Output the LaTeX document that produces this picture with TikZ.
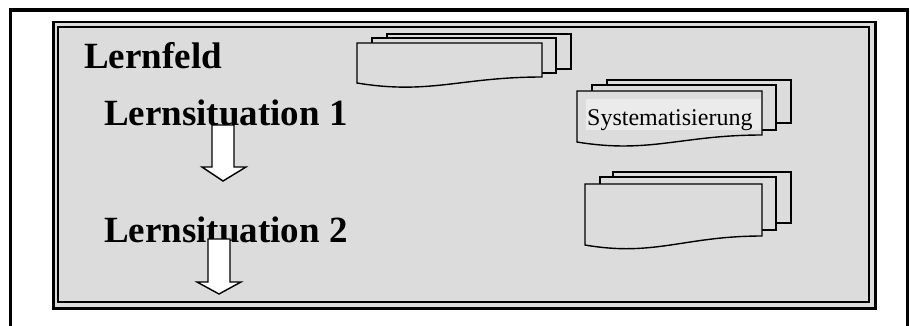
\documentclass[tikz,border=0pt]{standalone}
\usepackage{fontspec}
\setmainfont{Liberation Serif}
\definecolor{panelgrey}{HTML}{DCDCDC}
\definecolor{labelgrey}{HTML}{EBEBEB}
\tikzset{
  sheet/.style={draw=black, line width=1.4pt, fill=panelgrey, line join=miter},
  bigarrow/.style={draw=black, line width=1.4pt, fill=white, line join=miter},
  titletext/.style={font=\bfseries\fontsize{37}{40}\selectfont, anchor=base west, inner sep=0pt},
  sheettext/.style={font=\fontsize{24}{26}\selectfont, anchor=base west, inner sep=0pt},
}
\begin{document}
\begin{tikzpicture}[x=1pt,y=-1pt]
\useasboundingbox (0,0) rectangle (910,325);
\clip (0,0) rectangle (910,325);
% outer frame
\draw[line width=3.5pt] (10.3,10) rectangle (907.3,345);
% inner double frame
\draw[line width=2.5pt, fill=panelgrey] (53.6,22.2) rectangle (875.3,308.7);
\draw[line width=1.6pt] (58.2,26.9) rectangle (869.2,302.2);

% document stack 1
\draw[sheet] (387,34) rectangle (571,69);
\draw[sheet] (372,38) rectangle (556,73);
\draw[sheet] (357,43) -- (542,43) -- (542,77)
  .. controls (460.6,77) and (430,95) .. (357,83) -- cycle;

% document stack 2
\draw[sheet] (607,80) rectangle (791,123);
\draw[sheet] (592,85) rectangle (776,130);
\draw[sheet] (577,91) -- (762,91) -- (762,135)
  .. controls (681,135) and (650,154) .. (577,142) -- cycle;
\fill[labelgrey] (586,99) rectangle (761,130);
\node[sheettext] (sys) at (587,125) {Systematisierung};

% document stack 3
\draw[sheet] (613,172) rectangle (791,223);
\draw[sheet] (600,177) rectangle (776,230);
\draw[sheet] (585,184) -- (762,184) -- (762,236)
  .. controls (684,236) and (655,257) .. (585,245) -- cycle;

% texts
\node[titletext] (lernfeld) at (84,68) {Lernfeld};
\node[titletext] (ls1) at (104,125) {Lernsituation 1};
\node[titletext] (ls2) at (104,242) {Lernsituation 2};

% block arrows
\draw[bigarrow] (212,125) -- (234,125) -- (234,167) -- (246,167)
  -- (223,181) -- (202,167) -- (212,167) -- cycle;
\draw[bigarrow] (208,239) -- (230,239) -- (230,282) -- (241,282)
  -- (219,294) -- (197,282) -- (208,282) -- cycle;
\end{tikzpicture}
\end{document}
